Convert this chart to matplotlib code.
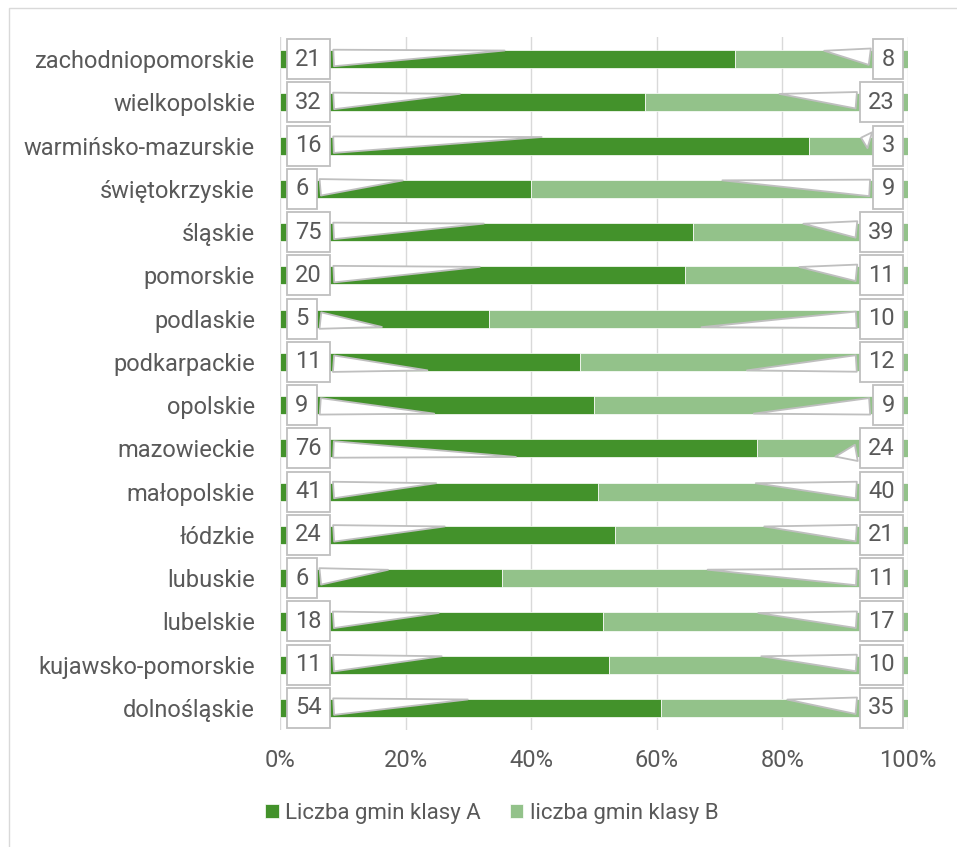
import numpy as np
import matplotlib
matplotlib.use("Agg")
import matplotlib.pyplot as plt
from matplotlib.patches import Rectangle
from matplotlib.ticker import PercentFormatter

# regions, top to bottom as in the chart
regions = ["zachodniopomorskie", "wielkopolskie", "warmińsko-mazurskie",
           "świętokrzyskie", "śląskie", "pomorskie", "podlaskie",
           "podkarpackie", "opolskie", "mazowieckie", "małopolskie",
           "łódzkie", "lubuskie", "lubelskie", "kujawsko-pomorskie",
           "dolnośląskie"]
class_a = [21, 32, 16, 6, 75, 20, 5, 11, 9, 76, 41, 24, 6, 18, 11, 54]
class_b = [8, 23, 3, 9, 39, 11, 10, 12, 9, 24, 40, 21, 11, 17, 10, 35]
series_names = ["Liczba gmin klasy A", "liczba gmin klasy B"]

dark = "#43922B"
light = "#93C28A"
grey_txt = "#595959"
plt.rcParams["font.family"] = ["Roboto", "DejaVu Sans"]

a = np.array(class_a, dtype=float)
b = np.array(class_b, dtype=float)
tot = a + b
sa = a / tot
sb = b / tot
y = np.arange(len(regions))

fig = plt.figure(figsize=(9.57, 8.47), dpi=100)
ax = fig.add_axes([0.2926, 0.1386, 0.6562, 0.8172])

ax.barh(y, sa, height=0.42, color=dark, edgecolor="white", linewidth=0.5,
        label=series_names[0], zorder=2)
ax.barh(y, sb, left=sa, height=0.42, color=light, edgecolor="white",
        linewidth=0.5, label=series_names[1], zorder=2)

ax.set_xlim(0, 1)
ax.set_ylim(len(regions) - 0.5, -0.5)
ax.set_xticks(np.linspace(0, 1, 6))
ax.xaxis.set_major_formatter(PercentFormatter(1.0, decimals=0))
ax.set_yticks(y)
ax.set_yticklabels(regions)
ax.tick_params(axis="both", length=0, labelsize=17, colors=grey_txt)
ax.tick_params(axis="x", pad=14)
ax.tick_params(axis="y", pad=18)
ax.grid(axis="x", color="#D9D9D9", linewidth=1, zorder=0)
for s in ax.spines.values():
    s.set_visible(False)

# callouts: rows whose pointer goes to the lower edge of the bar
tip_below = {6, 7, 8, 9}
box = dict(boxstyle="square,pad=0.36", fc="white", ec="#BFBFBF", lw=1.3)
wedge = dict(arrowstyle="wedge,tail_width=0.7", fc="white", ec="#BFBFBF",
             lw=1.3)
for i in y:
    dy = 0.2 if i in tip_below else -0.2
    ax.annotate(f"{class_a[i]}", xy=(sa[i] / 2, i + dy), xytext=(0.024, i),
                ha="left", va="center", fontsize=17, color=grey_txt,
                bbox=box, zorder=5, arrowprops=wedge)
    ax.annotate(f"{class_b[i]}", xy=(sa[i] + sb[i] / 2, i + dy),
                xytext=(0.979, i),
                ha="right", va="center", fontsize=17, color=grey_txt,
                bbox=box, zorder=5, arrowprops=wedge)

leg = fig.legend(loc="center", bbox_to_anchor=(0.514, 0.04), ncol=2,
                 frameon=False, fontsize=16, handlelength=0.6,
                 handleheight=0.6, columnspacing=1.3, handletextpad=0.3)
for t in leg.get_texts():
    t.set_color(grey_txt)

fig.patches.append(Rectangle((9 / 957, -0.1), 2, 1 - 8 / 847 + 0.1,
                             transform=fig.transFigure, fill=False,
                             ec="#D9D9D9", lw=1))

fig.savefig("out.png", dpi=100)
